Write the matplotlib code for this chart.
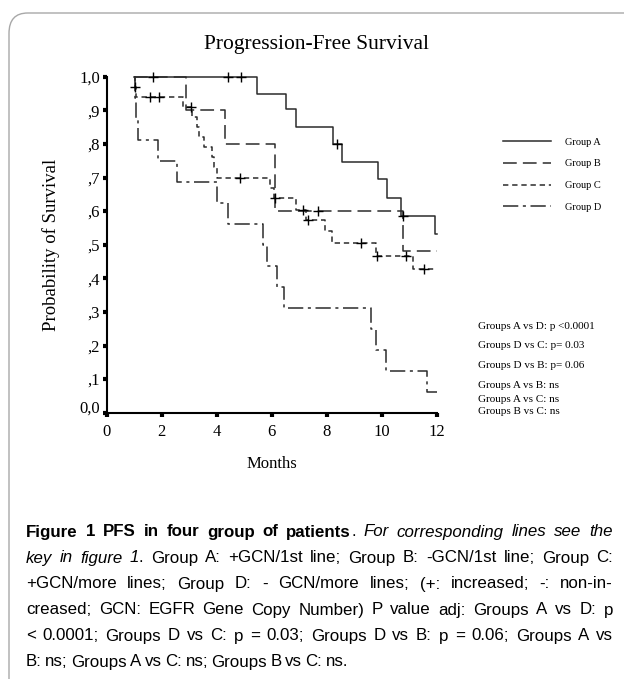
import matplotlib
matplotlib.use('Agg')
import matplotlib.pyplot as plt
from matplotlib.patches import FancyBboxPatch
from matplotlib.ticker import FixedLocator, FixedFormatter
import matplotlib.transforms as mtransforms

# Kaplan-Meier steps (months, probability)
a_time = [1.0, 5.48, 6.52, 6.87, 8.24, 8.57, 9.85, 10.18, 10.71, 11.94, 12.0]
a_surv = [1.0, 0.948, 0.903, 0.851, 0.80, 0.745, 0.695, 0.64, 0.585, 0.532, 0.532]
a_cens_t = [1.7, 4.4, 4.9, 8.39, 10.76]
a_cens_s = [1.0, 1.0, 1.0, 0.80, 0.585]

b_time = [1.0, 2.87, 4.31, 6.12, 10.79, 12.0]
b_surv = [1.0, 0.90, 0.80, 0.60, 0.48, 0.48]
b_cens_t = [7.67]
b_cens_s = [0.60]

c_time = [1.0, 1.02, 1.05, 2.79, 3.09, 3.3, 3.37, 3.55, 3.82, 3.91, 4.0, 5.94, 6.08,
          6.88, 7.25, 7.94, 8.18, 9.8, 11.15, 12.0]
c_surv = [1.0, 0.97, 0.94, 0.91, 0.88, 0.85, 0.82, 0.79, 0.76, 0.73, 0.70, 0.67, 0.638,
          0.603, 0.573, 0.541, 0.504, 0.466, 0.427, 0.427]
c_cens_t = [1.02, 1.57, 1.91, 3.05, 4.85, 6.12, 7.15, 7.33, 9.23, 9.82, 10.87, 11.55]
c_cens_s = [0.97, 0.94, 0.94, 0.91, 0.70, 0.638, 0.603, 0.573, 0.504, 0.466, 0.466, 0.427]

d_time = [1.0, 1.03, 1.07, 1.15, 1.85, 2.57, 4.0, 4.42, 5.67, 5.82, 6.2, 6.45, 9.6,
          9.78, 10.15, 11.64, 12.0]
d_surv = [1.0, 0.9375, 0.875, 0.8125, 0.75, 0.6875, 0.625, 0.5625, 0.5, 0.4375, 0.375,
          0.3125, 0.25, 0.1875, 0.125, 0.0625, 0.0625]

group_names = ['Group A', 'Group B', 'Group C', 'Group D']
x_ticks = [0, 2, 4, 6, 8, 10, 12]
y_ticks = [0.0, 0.1, 0.2, 0.3, 0.4, 0.5, 0.6, 0.7, 0.8, 0.9, 1.0]
y_labels = ['0,0', ',1', ',2', ',3', ',4', ',5', ',6', ',7', ',8', ',9', '1,0']

stats = ['Groups A vs D: p <0.0001', 'Groups D vs C: p= 0.03', 'Groups D vs B: p= 0.06',
         'Groups A vs B: ns', 'Groups A vs C: ns', 'Groups B vs C: ns']

caption = [
    [('Figure 1 PFS in four group of patients', 'bold', 'normal'), ('. ', 'normal', 'normal'),
     ('For corresponding lines see the', 'normal', 'italic')],
    [('key in figure 1', 'normal', 'italic'),
     ('. Group A: +GCN/1st line; Group B: -GCN/1st line; Group C:', 'normal', 'normal')],
    [('+GCN/more lines; Group D: - GCN/more lines; (+: increased; -: non-in-', 'normal', 'normal')],
    [('creased; GCN: EGFR Gene Copy Number) P value adj: Groups A vs D: p', 'normal', 'normal')],
    [('< 0.0001; Groups D vs C: p = 0.03; Groups D vs B: p = 0.06; Groups A vs', 'normal', 'normal')],
    [('B: ns; Groups A vs C: ns; Groups B vs C: ns.', 'normal', 'normal')],
]

W, H = 624, 679
fig = plt.figure(figsize=(W / 100, H / 100), dpi=100)
fig.patch.set_facecolor('white')

# rounded frame around the figure panel
frame = FancyBboxPatch((9 / W, -0.2), 1.2, 1.2 - 13 / H,
                       boxstyle='round,pad=0,rounding_size=0.03',
                       transform=fig.transFigure, fc='none', ec='#a8a8a8', lw=1.0)
fig.patches.append(frame)

ax = fig.add_axes([106.7 / W, (H - 412.7) / H, 330 / W, 336 / H])
serif = 'Liberation Serif'
col = '#2b2b2b'

la, = ax.step(a_time, a_surv, where='post', color=col, lw=1.1, linestyle='-')
lb, = ax.step(b_time, b_surv, where='post', color=col, lw=1.1, linestyle=(0, (9, 4)))
lc, = ax.step(c_time, c_surv, where='post', color=col, lw=1.1, linestyle=(0, (3.5, 2.5)))
ld, = ax.step(d_time, d_surv, where='post', color=col, lw=1.1, linestyle=(0, (10, 3, 2, 3)))
for ct, cs in [(a_cens_t, a_cens_s), (b_cens_t, b_cens_s), (c_cens_t, c_cens_s)]:
    ax.plot(ct, cs, linestyle='none', marker='+', ms=7, mew=1.0, color='black')

ax.set_xlim(0, 12)
ax.set_ylim(0, 1.0)
for ln in ax.lines:
    ln.set_clip_on(False)
for s in ['top', 'right']:
    ax.spines[s].set_visible(False)
for s in ['left', 'bottom']:
    ax.spines[s].set_linewidth(1.5)
ax.xaxis.set_major_locator(FixedLocator(x_ticks))
ax.yaxis.set_major_locator(FixedLocator(y_ticks))
ax.yaxis.set_major_formatter(FixedFormatter(y_labels))
ax.tick_params(direction='out', length=3, width=3, color='black', labelsize=12)
ax.tick_params(axis='x', pad=5)
ax.tick_params(axis='y', pad=2)
for lab in ax.get_xticklabels() + ax.get_yticklabels():
    lab.set_fontfamily(serif)
# the 0,0 label sits a bit above its tick in the original
zero_lab = ax.get_yticklabels()[0]
zero_lab.set_transform(zero_lab.get_transform() +
                       mtransforms.ScaledTranslation(0, 6 / 100, fig.dpi_scale_trans))

ax.set_xlabel('Months', fontfamily=serif, fontsize=12, labelpad=12)
ax.set_ylabel('Probability of Survival', fontfamily=serif, fontsize=13.5, labelpad=14)
fig.text(317 / W, 1 - 45 / H, 'Progression-Free Survival', ha='center', va='center',
         fontfamily=serif, fontsize=15.5)

fig.legend([la, lb, lc, ld], group_names, loc='upper left',
           bbox_to_anchor=(494 / W, 1 - 128 / H), frameon=False,
           prop={'family': serif, 'size': 7.5}, handlelength=4.6, handletextpad=1.3,
           labelspacing=1.2)

stat_y = [326, 346, 366, 386, 399, 412]
for txt, yy in zip(stats, stat_y):
    fig.text(478 / W, 1 - yy / H, txt, ha='left', va='center', fontfamily=serif, fontsize=8)

# caption, justified like the journal layout
cap_font = 'Liberation Sans'
cap_size = 12.2
left_px, right_px = 26, 613
renderer = fig.canvas.get_renderer()


def split_words(runs):
    words, cur = [], []
    for txt, wt, st in runs:
        parts = txt.split(' ')
        for k, p in enumerate(parts):
            if k > 0:
                if cur:
                    words.append(cur)
                cur = []
            if p:
                cur.append((p, wt, st))
    if cur:
        words.append(cur)
    return words


def seg_width(p, wt, st):
    t = fig.text(0, 0, p, fontsize=cap_size, fontweight=wt, fontstyle=st,
                 fontfamily=cap_font)
    wd = t.get_window_extent(renderer).width
    t.remove()
    return wd


for i, line in enumerate(caption):
    y = 1 - (532 + i * 26) / H
    words = split_words(line)
    widths = [sum(seg_width(*s) for s in w) for w in words]
    if i < len(caption) - 1:
        gap = (right_px - left_px - sum(widths)) / (len(words) - 1)
    else:
        gap = 3.4
    x = left_px
    for w, wd in zip(words, widths):
        xx = x
        for p, wt, st in w:
            fig.text(xx / W, y, p, ha='left', va='center', fontsize=cap_size,
                     fontweight=wt, fontstyle=st, fontfamily=cap_font)
            xx += seg_width(p, wt, st)
        x += wd + gap

fig.savefig('out.png', dpi=100)
